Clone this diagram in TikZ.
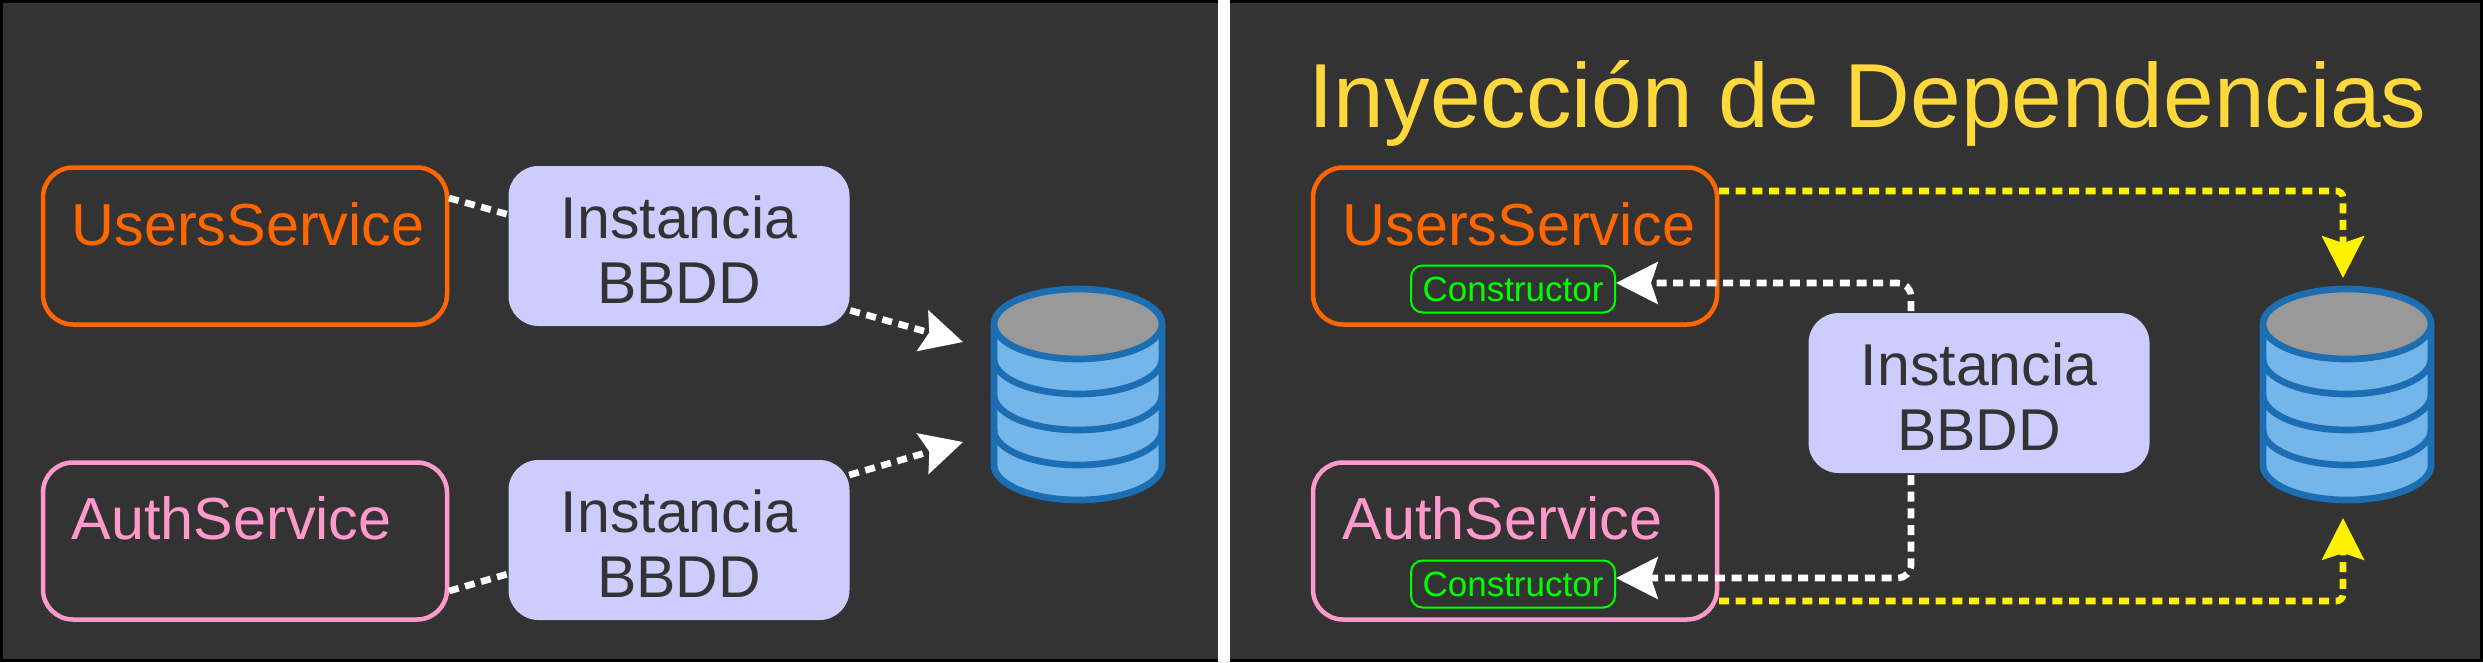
\documentclass[tikz,border=0pt]{standalone}
\usepackage{fontspec}
\setmainfont{Liberation Sans}
\usetikzlibrary{arrows.meta}

\definecolor{mypanel}{HTML}{333333}
\definecolor{myorange}{HTML}{FF6600}
\definecolor{mypink}{HTML}{FF99CC}
\definecolor{myinst}{HTML}{CCCCFF}
\definecolor{mytitle}{HTML}{FFD93B}
\definecolor{myblue}{HTML}{75B6EA}
\definecolor{mydbline}{HTML}{1B6EB1}
\definecolor{mygrey}{HTML}{999999}

\newcommand{\insttext}{\rule{0pt}{15pt}Instancia\\BBDD}

\tikzset{
	svcbox/.style = {draw, line width = 1.35pt, rounded corners = 9pt, minimum width = 121.2pt, minimum height = 47.1pt, inner sep = 0pt},
	svctext/.style = {anchor = west, inner sep = 0pt, font = \fontsize{17.8}{20}\selectfont},
	instbox/.style = {fill = myinst, text = mypanel, rounded corners = 9pt, minimum width = 102.3pt, minimum height = 48pt, inner sep = 0pt, align = center, font = \fontsize{17.7}{19.6}\selectfont},
	ctorbox/.style = {draw = green, text = green, line width = .6pt, rounded corners = 3.5pt, minimum width = 61.2pt, minimum height = 14.1pt, inner sep = 0pt, font = \fontsize{10.5}{12}\selectfont},
	dep/.style = {white, line width = 2pt, dash pattern = on 3pt off 2pt, -{Stealth[length = 12.5pt, width = 12.5pt, inset = 2pt]}},
	inj/.style = {dep, yellow},
}

\begin{document}
\begin{tikzpicture}[x = .3pt, y = -.3pt]
	\useasboundingbox (0,0) rectangle (2483,662);
	\fill[black] (0,0) rectangle (2483,662);
	\fill[mypanel] (3,3) rectangle (2480,659);
	\fill[white] (1218,0) rectangle (1230,662);

	% left side
	\node[svcbox, draw = myorange] (usersL) at (245,246) {};
	\node[svctext, text = myorange] (usersLtxt) at (71,224) {UsersService};
	\node[svcbox, draw = mypink] (authL) at (245,541) {};
	\node[svctext, text = mypink] (authLtxt) at (71,518) {AuthService};

	\coordinate (usersLout) at (449,198);
	\coordinate (authLout) at (449,591);
	\coordinate (dbtipU) at (963,342);
	\coordinate (dbtipA) at (963,442);
	\draw[dep] (usersLout) -- (dbtipU);
	\draw[dep] (authLout) -- (dbtipA);

	\node[instbox] (instU) at (679,246) {\insttext};
	\node[instbox] (instA) at (679,540) {\insttext};

	% right side
	\node[anchor = west, inner sep = 0pt, text = mytitle, font = \fontsize{27.3}{30}\selectfont] (title) at (1308,103) {Inyección de Dependencias};

	\node[svcbox, draw = myorange] (usersR) at (1515,246) {};
	\node[svctext, text = myorange] (usersRtxt) at (1342,224) {UsersService};
	\node[ctorbox] (ctorU) at (1513,289) {Constructor};
	\node[svcbox, draw = mypink] (authR) at (1515,541) {};
	\node[svctext, text = mypink] (authRtxt) at (1342,518) {AuthService};
	\node[ctorbox] (ctorA) at (1513,584) {Constructor};

	\node[instbox] (instR) at (1979,393) {\insttext};

	\coordinate (instRup) at (1911,311);
	\coordinate (instRdown) at (1911,475);
	\draw[dep, rounded corners = 4pt] (instRup) |- ([yshift = 1.8pt]ctorU.east);
	\draw[dep, rounded corners = 4pt] (instRdown) |- ([yshift = 1.8pt]ctorA.east);

	\coordinate (usersRout) at (1719,191);
	\coordinate (authRout) at (1719,601);
	\coordinate (dbtopR) at (2343,278);
	\coordinate (dbbotR) at (2343,518);
	\draw[inj, rounded corners = 2pt] (usersRout) -| (dbtopR);
	\draw[inj, rounded corners = 2pt] (authRout) -| (dbbotR);

	% the two databases
	\foreach \x in {1078,2347}
	{
		\fill[myblue] (\x-84,324) -- (\x-84,465) arc (180:360:25.2pt and 10.5pt) -- (\x+84,324) -- cycle;
		\foreach \y in {359,395,430}
		{
			\draw[mydbline, line width = 2pt] (\x-84,\y) arc (180:360:25.2pt and 10.5pt);
		}
		\draw[mydbline, line width = 2pt, line join = round, fill = mygrey] (\x,324) ellipse (25.2pt and 10.5pt);
		\draw[mydbline, line width = 2pt, line join = round] (\x-84,324) -- (\x-84,465) arc (180:360:25.2pt and 10.5pt) -- (\x+84,324);
	}
\end{tikzpicture}
\end{document}
